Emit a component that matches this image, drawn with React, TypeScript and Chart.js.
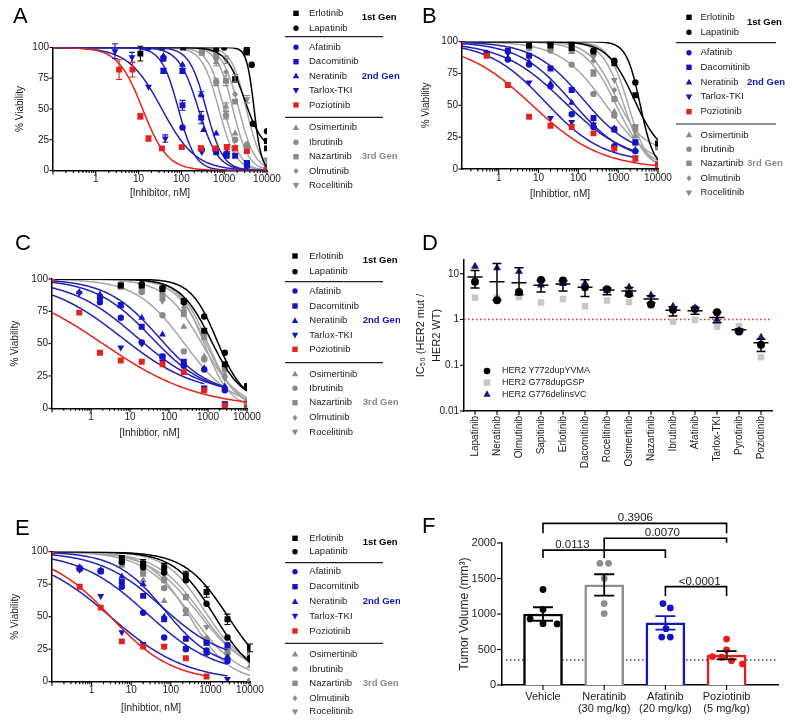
import React, { useEffect, useRef } from 'react';
import { Chart, registerables } from 'chart.js';

Chart.register(...registerables);

const FONT = '"Liberation Sans", Arial, Helvetica, sans-serif';
Chart.defaults.font.family = FONT;
Chart.defaults.color = '#1a1a1a';

const BLACK = '#000000';
const BLUE = '#1414c4';
const BLUE_LINE = '#2222b8';
const RED = '#e8201c';
const GRAY = '#8a8a8a';
const GRAY_LINE = '#a6a6a6';
const NAVY = '#16167e';
const LIGHT = '#c8c8c8';
const TEXT = '#1a1a1a';

// ================= DATA =================
// Dose–response panels (A, B, C, E)
const drugNames = ['Erlotinib', 'Lapatinib', 'Afatinib', 'Dacomitinib', 'Neratinib', 'Tarlox-TKI', 'Poziotinib', 'Osimertinib', 'Ibrutinib', 'Nazartinib', 'Olmutinib', 'Rocelitinib'];
const genLabels = ['1st Gen', '2nd Gen', '3rd Gen'];
const vehicleViability = 100;

// Panel A: [concentration nM, % viability, error]
const aErlotinib = [[11, 95, 6], [35, 100, 0], [110, 100, 0], [650, 99, 0], [1800, 74, 2], [3400, 97, 3], [10000, 24, 0], [10000, 18, 0]];
const aLapatinib = [[1000, 100, 0], [3300, 97, 2], [4400, 86, 0], [4700, 38, 0], [10000, 32, 0]];
const aAfatinib = [[17, 100, 0], [38, 91, 2], [106, 35, 0], [300, 17, 0], [1100, 13, 0], [3400, 6, 2], [10000, 1, 0]];
const aDacomitinib = [[38, 81, 2], [106, 81, 2], [106, 53, 4], [290, 43, 5], [650, 15, 0], [1150, 12, 0], [1800, 12, 0], [3400, 4, 3]];
const aNeratinib = [[38, 93, 0], [106, 86, 0], [290, 62, 2], [330, 33, 0], [650, 30, 0], [1150, 15, 0], [3400, 5, 0], [10000, 1, 0]];
const aTarlox = [[2.8, 97, 6], [7, 92, 4], [17, 68, 0], [42, 26, 3], [300, 15, 0], [620, 15, 0], [1150, 14, 0], [3400, 4, 3], [10000, 1, 0]];
const aPoziotinib = [[3.5, 82, 8], [7.2, 82, 6], [11, 44, 2], [17, 26, 2], [35, 18, 1], [102, 19, 1], [285, 18, 2], [620, 18, 1], [1150, 19, 2], [1800, 18, 2], [3400, 16, 2], [10000, 0.5, 0]];
const aOsimertinib = [[300, 95, 0], [650, 88, 3], [1100, 52, 3], [1800, 30, 0], [3400, 20, 2], [10000, 3, 0]];
const aIbrutinib = [[300, 96, 0], [650, 72, 3], [1100, 45, 3], [1800, 25, 0], [3400, 18, 0], [10000, 2, 0]];
const aNazartinib = [[300, 99, 0], [650, 93, 0], [1100, 73, 4], [1800, 56, 0], [3400, 20, 0], [10000, 3, 0]];
const aOlmutinib = [[300, 98, 0], [650, 90, 0], [1100, 80, 0], [1800, 62, 0], [3400, 22, 0], [10000, 4, 0]];
const aRocelitinib = [[300, 100, 0], [650, 97, 0], [1100, 90, 3], [1800, 75, 3], [3400, 58, 3], [10000, 9, 0]];
// fitted curve parameters: [top, bottom, IC50 nM, Hill slope, last concentration]
const fitA = [
  [100, 15, 3000, 2, 10000], [100, 0, 5000, 5, 10000], [100, 0, 85, 2.2, 10000], [100, 0, 250, 1.9, 10000],
  [100, 0, 380, 2.2, 10000], [100, 0, 35, 1.1, 10000], [100, 0, 12.4, 1.5, 10000], [100, 0, 1000, 2.3, 10000],
  [100, 0, 750, 2.2, 10000], [100, 0, 2200, 2.3, 10000], [100, 0, 1600, 2.4, 10000], [100, 0, 3300, 2.5, 10000],
];

// Panels B, C, E share one dilution series (vehicle = 100 % plotted at the axis start)
const concBCE = [0.5, 1.7, 5.8, 20, 68, 240, 800, 2700, 10000];

const bErlotinib = [null, null, 97, 97, 95, 92, 83, 58, 20];
const bLapatinib = [null, null, null, 99, 99, 93, 85, 68, 3];
const bAfatinib = [91, 86, 82, 65, 43, 33, 18, 14, null];
const bDacomitinib = [null, 93, 89, 79, 62, 40, 31, 21, null];
const bNeratinib = [91, 87, 84, 67, 52, 35, 32, 15, null];
const bTarlox = [91, 91, 68, 40, 37, 35, 16, 9, null];
const bPoziotinib = [89, 66, 41, 34, 33, 28, 16, 8, 3];
const bOsimertinib = [null, null, 97, 95, 92, 74, 45, 26, 5];
const bIbrutinib = [null, null, 95, 93, 82, 59, 42, 20, 17];
const bNazartinib = [null, null, 96, 95, 93, 76, 55, 33, 17];
const bOlmutinib = [null, null, 98, 97, 95, 85, 62, 30, 5];
const bRocelitinib = [null, null, 98, 98, 96, 88, 70, 33, 5];
const fitB = [
  [100, 10, 2500, 1.3, 10000], [100, 0, 3600, 2.5, 10000], [100, 5, 45, 0.55, 2700], [100, 10, 130, 0.7, 2700],
  [100, 5, 70, 0.65, 2700], [100, 5, 15, 0.6, 2700], [100, 0, 7, 0.5, 10000], [100, 0, 900, 1.1, 10000],
  [100, 0, 500, 0.75, 10000], [100, 15, 850, 1.3, 10000], [100, 0, 1400, 1.6, 10000], [100, 0, 1800, 1.8, 10000],
];

const cErlotinib = [null, null, 95, 95, 92, 83, 60, 34, 17];
const cLapatinib = [null, null, null, 96, 93, 82, 71, 43, 17];
const cAfatinib = [null, 82, 70, 51, 40, 33, 30, 14, null];
const cDacomitinib = [null, 86, 80, 63, 40, 36, 15, 3, null];
const cNeratinib = [90, 88, 79, 70, 57, 35, 31, 17, null];
const cTarlox = [89, 84, 47, 50, 36, 33, 16, 4, null];
const cPoziotinib = [74, 43, 37, 36, 34, 28, 14, 2, 0.5];
const cOsimertinib = [null, null, 96, 90, 85, 63, 40, 26, 5];
const cIbrutinib = [null, null, 95, 90, 72, 44, 38, 15, 4];
const cNazartinib = [null, null, 94, 92, 87, 73, 55, 30, 3];
const cOlmutinib = [null, null, 97, 90, 88, 78, 57, 33, 6];
const cRocelitinib = [null, null, 96, 93, 83, 75, 38, 23, 2];
const fitC = [
  [100, 5, 1200, 1.1, 10000], [100, 5, 1700, 1.3, 10000], [100, 10, 15, 0.5, 2700], [100, 10, 35, 0.6, 2700],
  [100, 10, 55, 0.65, 2700], [100, 10, 6, 0.45, 800], [100, 0, 2, 0.35, 10000], [100, 0, 700, 0.9, 10000],
  [100, 0, 250, 0.7, 10000], [100, 0, 900, 1.1, 10000], [100, 0, 1000, 1.2, 10000], [100, 0, 800, 1.3, 10000],
];

const eErlotinib = [null, null, 95, 91, 88, 82, 69, 48, 26];
const eErlotinibErr = [0, 0, 2, 3, 3, 3, 4, 4, 3];
const eLapatinib = [null, null, 92, 88, 84, 78, 60, 34, 18];
const eAfatinib = [87, 85, 73, 53, 34, 25, 24, 16, null];
const eDacomitinib = [87, 85, 77, 66, 48, 33, 30, 28, null];
const eNeratinib = [88, 86, 81, 75, 50, 26, 22, 19, null];
const eTarlox = [86, 66, 38, 29, 27, 26, 22, 2, null];
const ePoziotinib = [73, 57, 31, 27, 27, 18, 4, null, null];
const eOsimertinib = [null, null, 93, 78, 62, 52, 33, 20, 12];
const eIbrutinib = [null, null, 91, 84, 72, 55, 22, 22, 0.5];
const eNazartinib = [null, null, 90, 83, 78, 65, 30, 23, 21];
const eOlmutinib = [null, null, 95, 86, 80, 66, 34, 28, 15];
const eRocelitinib = [null, null, 93, 90, 82, 66, 42, 25, 17];
const fitE = [
  [100, 0, 2800, 0.8, 10000], [100, 0, 1300, 0.85, 10000], [100, 5, 25, 0.5, 2700], [100, 15, 60, 0.55, 2700],
  [100, 10, 70, 0.7, 2700], [100, 0, 3, 0.45, 2700], [100, 0, 3, 0.55, 800], [100, 0, 350, 0.7, 10000],
  [100, 0, 300, 0.85, 10000], [100, 5, 500, 0.7, 10000], [100, 5, 600, 0.75, 10000], [100, 10, 700, 0.9, 10000],
];

// Panel D: IC50 ratio (HER2 mut / HER2 WT)
const dDrugs = ['Lapatinib', 'Neratinib', 'Olmutinib', 'Sapitinib', 'Erlotinib', 'Dacomitinib', 'Rocelitinib', 'Osimertinib', 'Nazartinib', 'Ibrutinib', 'Afatinib', 'Tarlox-TKI', 'Pyrotinib', 'Poziotinib'];
const dY772 = [6.7, 2.65, 4.0, 7.3, 7.1, 5.1, 4.6, 3.6, 2.15, 1.64, 1.7, 1.45, 0.55, 0.28];
const dG778 = [3.0, 3.0, 3.1, 2.35, 2.8, 1.95, 2.6, 2.4, 2.0, 0.9, 0.98, 0.7, 0.72, 0.15];
const dG776 = [14.5, 13.4, 11.2, 5.6, 6.1, 6.2, 4.2, 5.1, 3.4, 1.95, 1.8, 1.0, 0.58, 0.41];
const dMean = [8.5, 6.7, 6.4, 5.6, 6.0, 5.1, 4.4, 4.2, 2.8, 1.6, 1.55, 1.1, 0.6, 0.31];
const dErrHi = [11.8, 16.7, 13.6, 7.2, 7.0, 7.4, 4.9, 5.0, 3.3, 1.9, 1.8, 1.45, 0.62, 0.37];
const dErrLo = [4.9, 2.65, 3.5, 4.0, 4.2, 3.2, 3.5, 3.3, 2.3, 1.2, 1.3, 0.85, 0.55, 0.2];
const dLegend = ['HER2 Y772dupYVMA', 'HER2 G778dupGSP', 'HER2 G776delinsVC'];
const dReference = 1;

// Panel F: tumor volume
const fGroups = ['Vehicle', 'Neratinib', 'Afatinib', 'Poziotinib'];
const fDoses = ['', '(30 mg/kg)', '(20 mg/kg)', '(5 mg/kg)'];
const fMean = [1000, 1410, 875, 420];
const fSem = [95, 150, 96, 58];
const fVehicleDots = [1345, 1062, 930, 864, 860];
const fNeratinibDots = [1714, 1714, 1500, 1147, 1006];
const fAfatinibDots = [1147, 1086, 793, 675, 675];
const fPoziotinibDots = [647, 496, 401, 391, 340, 297];
const fBaseline = 354;
const fPValues = ['0.0113', '0.0070', '0.3906', '<0.0001'];

// ================= STYLE =================
const drugColors = [BLACK, BLACK, BLUE, BLUE, BLUE, BLUE, RED, GRAY, GRAY, GRAY, GRAY, GRAY];
const curveColors = [BLACK, BLACK, BLUE_LINE, BLUE_LINE, BLUE_LINE, BLUE_LINE, RED, GRAY_LINE, GRAY_LINE, GRAY_LINE, GRAY_LINE, GRAY_LINE];
const drugMarkers = ['rect', 'circle', 'circle', 'rect', 'triangle', 'triangleDown', 'rect', 'triangle', 'circle', 'rect', 'diamond', 'triangleDown'];
const genColors = [BLACK, BLUE, GRAY];
const layerOrder = [20, 20, 10, 10, 10, 10, 0, 30, 30, 30, 30, 30];
const chartStyle: any = {
  circle: ['circle', 3.2, 0],
  rect: ['rect', 4.2, 0],
  triangle: ['triangle', 4, 0],
  triangleDown: ['triangle', 4, 180],
  diamond: ['rectRot', 3, 0],
};
const fColors = [BLACK, '#8e8e8e', '#1212c8', '#ee1a1a'];
const fErrColors = [BLACK, BLACK, '#1212c8', BLACK];
const fJitter = [[0, 0, -0.21, 0, 0.23], [-0.07, 0.07, 0, 0, 0], [-0.04, 0.08, 0.01, -0.06, 0.08], [0, 0, -0.23, -0.08, 0.08, 0.26]];
// bracket geometry in data units: [from, to, lineY, leftLegEnd, rightLegEnd, labelIndex, labelX]
const fBracketGeom = [
  [0, 2, 1900, 1790, 1790, 0, 0.48],
  [1, 3, 2066, 1790, 2004, 1, 1.95],
  [0, 3, 2277, 2136, 2136, 2, 1.51],
  [2, 3, 1385, 1254, 1254, 3, 2.56],
];

// ================= HELPERS =================
function drawMarker(ctx: any, style: string, x: number, y: number, r: number, color: string) {
  ctx.save();
  ctx.fillStyle = color;
  ctx.beginPath();
  if (style === 'circle') ctx.arc(x, y, r, 0, Math.PI * 2);
  else if (style === 'rect') ctx.rect(x - r, y - r, 2 * r, 2 * r);
  else if (style === 'triangle') { ctx.moveTo(x, y - r * 1.1); ctx.lineTo(x + r, y + r * 0.7); ctx.lineTo(x - r, y + r * 0.7); ctx.closePath(); }
  else if (style === 'triangleDown') { ctx.moveTo(x, y + r * 1.1); ctx.lineTo(x + r, y - r * 0.7); ctx.lineTo(x - r, y - r * 0.7); ctx.closePath(); }
  else if (style === 'diamond') { ctx.moveTo(x, y - r); ctx.lineTo(x + r * 0.8, y); ctx.lineTo(x, y + r); ctx.lineTo(x - r * 0.8, y); ctx.closePath(); }
  ctx.fill();
  ctx.restore();
}
const legendR: any = { circle: 2.7, rect: 2.7, triangle: 3.2, triangleDown: 3.2, diamond: 3 };

// curve from 4-parameter logistic fit parameters
function fitCurve(p: number[], xMin: number) {
  const [top, bottom, ic50, hill, end] = p;
  const l0 = Math.log10(xMin), l1 = Math.log10(end);
  const pts: any[] = [];
  for (let k = 0; k <= 160; k++) {
    const x = Math.pow(10, l0 + ((l1 - l0) * k) / 160);
    pts.push({ x, y: bottom + (top - bottom) / (1 + Math.pow(x / ic50, hill)) });
  }
  return pts;
}

function rowsToPoints(rows: any[][], xMin: number, errs: any[] = []) {
  return rows.map((row, i) => {
    const pts: any[] = [{ x: xMin, y: vehicleViability, e: 0 }];
    row.forEach((v, j) => {
      if (v != null) pts.push({ x: concBCE[j], y: v, e: errs[i] ? errs[i][j] : 0 });
    });
    return pts;
  });
}

function logTicks(scale: any) {
  const ticks: any[] = [];
  for (let e = -2; e <= 4; e++) {
    for (let d = 1; d <= 9; d++) {
      const v = d * Math.pow(10, e);
      if (v >= scale.min * 0.999 && v <= scale.max * 1.001) ticks.push({ value: v, major: d === 1 });
    }
  }
  scale.ticks = ticks;
}

function drawTickMarks(chart: any, xLen: number[] | null, yLen: number[] | null) {
  const { ctx, chartArea } = chart;
  const xs = chart.scales.x, ys = chart.scales.y;
  ctx.save();
  ctx.strokeStyle = '#000';
  ctx.lineWidth = 1.1;
  if (xLen) {
    xs.ticks.forEach((t: any) => {
      const px = xs.getPixelForValue(t.value);
      const len = t.major === false ? xLen[1] : xLen[0];
      ctx.beginPath(); ctx.moveTo(px, chartArea.bottom); ctx.lineTo(px, chartArea.bottom + len); ctx.stroke();
    });
  }
  if (yLen) {
    ys.ticks.forEach((t: any) => {
      const py = ys.getPixelForValue(t.value);
      const len = t.major === false ? yLen[1] : yLen[0];
      ctx.beginPath(); ctx.moveTo(chartArea.left - len, py); ctx.lineTo(chartArea.left, py); ctx.stroke();
    });
  }
  ctx.restore();
}

function drawLetter(ctx: any, letter: string, x: number, y: number) {
  ctx.save();
  ctx.font = `22px ${FONT}`;
  ctx.fillStyle = '#000';
  ctx.textBaseline = 'alphabetic';
  ctx.textAlign = 'left';
  ctx.fillText(letter, x, y);
  ctx.restore();
}

const baseOptions: any = {
  responsive: false,
  animation: false,
  devicePixelRatio: 1,
  events: [],
  plugins: { legend: { display: false }, tooltip: { enabled: false } },
};

// ================= DOSE PANELS =================
function buildDoseConfig(c: any) {
  const datasets: any[] = [];
  drugNames.forEach((_, i) => {
    const [ps, pr, rot] = chartStyle[drugMarkers[i]];
    datasets.push({
      data: fitCurve(c.fits[i], c.xMin), showLine: true, borderColor: curveColors[i], borderWidth: 1.5,
      pointRadius: 0, fill: false, order: layerOrder[i] + 1,
    });
    datasets.push({
      isPts: true, data: c.points[i], showLine: false, pointStyle: ps, pointRadius: pr, pointRotation: rot,
      backgroundColor: drugColors[i], borderColor: drugColors[i], borderWidth: 0, order: layerOrder[i],
    });
  });
  const L = c.legend;
  return {
    type: 'scatter',
    data: { datasets },
    options: {
      ...baseOptions,
      layout: { padding: { left: 0, top: c.area.t, right: c.w - c.area.r, bottom: c.h - c.area.b - c.xAxisH } },
      scales: {
        x: {
          type: 'logarithmic', min: c.xMin, max: 10000, position: 'bottom',
          grid: { display: false, drawTicks: true, tickLength: 3 },
          border: { display: true, color: '#000', width: 1.5 },
          ticks: {
            autoSkip: false, maxRotation: 0, minRotation: 0, padding: 0, color: TEXT,
            font: { size: 10, family: FONT },
            callback: (v: any, i: number, ticks: any[]) => (ticks[i] && ticks[i].major && v >= 1 ? String(Math.round(v)) : ''),
          },
          title: { display: true, text: c.xTitle, color: TEXT, font: { size: 10, family: FONT }, padding: { top: 0, bottom: 0 } },
          afterBuildTicks: logTicks,
          afterFit: (s: any) => { s.height = c.xAxisH; },
        },
        y: {
          type: 'linear', min: 0, max: 100, position: 'left',
          grid: { display: false, drawTicks: true, tickLength: 3 },
          border: { display: true, color: '#000', width: 1.5 },
          ticks: { stepSize: 25, padding: 1, color: TEXT, font: { size: 10, family: FONT } },
          title: { display: true, text: '% Viability', color: TEXT, font: { size: 10, family: FONT }, padding: { top: c.yTitlePad, bottom: 0 } },
          afterFit: (s: any) => { s.width = c.area.l; },
        },
      },
    },
    plugins: [{
      id: 'doseDecor',
      afterDraw(chart: any) {
        const { ctx } = chart;
        const xs = chart.scales.x, ys = chart.scales.y;
        // error bars
        ctx.save();
        chart.data.datasets.forEach((ds: any) => {
          if (!ds.isPts) return;
          ctx.strokeStyle = ds.backgroundColor;
          ctx.lineWidth = 1.1;
          ds.data.forEach((p: any) => {
            if (!p.e) return;
            const px = xs.getPixelForValue(p.x);
            const y1 = ys.getPixelForValue(Math.min(p.y + p.e, 104));
            const y2 = ys.getPixelForValue(p.y - p.e);
            ctx.beginPath();
            ctx.moveTo(px, y1); ctx.lineTo(px, y2);
            ctx.moveTo(px - 3, y1); ctx.lineTo(px + 3, y1);
            ctx.moveTo(px - 3, y2); ctx.lineTo(px + 3, y2);
            ctx.stroke();
          });
        });
        ctx.restore();
        drawTickMarks(chart, [4, 2.5], [3.5, 2]);
        // legend
        ctx.save();
        ctx.font = `9.5px ${FONT}`;
        ctx.textBaseline = 'middle';
        ctx.textAlign = 'left';
        drugNames.forEach((n, i) => {
          drawMarker(ctx, drugMarkers[i], L.markerX, L.rows[i], legendR[drugMarkers[i]], drugColors[i]);
          ctx.fillStyle = TEXT;
          ctx.fillText(n, L.textX, L.rows[i]);
        });
        ctx.strokeStyle = '#222';
        ctx.lineWidth = 1.2;
        L.seps.forEach((y: number) => { ctx.beginPath(); ctx.moveTo(L.sepX[0], y); ctx.lineTo(L.sepX[1], y); ctx.stroke(); });
        ctx.font = `bold 9.5px ${FONT}`;
        genLabels.forEach((g, k) => { ctx.fillStyle = genColors[k]; ctx.fillText(g, L.genX, L.genY[k]); });
        ctx.restore();
        drawLetter(ctx, c.letter, c.letterPos[0], c.letterPos[1]);
      },
    }],
  };
}

const cfgA = {
  left: 0, top: 0, w: 400, h: 230, area: { l: 53, t: 47.5, r: 267, b: 170.5 }, xMin: 0.1, xAxisH: 29, yTitlePad: 14,
  xTitle: '[Inhibitor, nM]', letter: 'A', letterPos: [13, 23], fits: fitA,
  points: [aErlotinib, aLapatinib, aAfatinib, aDacomitinib, aNeratinib, aTarlox, aPoziotinib, aOsimertinib, aIbrutinib, aNazartinib, aOlmutinib, aRocelitinib]
    .map((list) => list.map(([x, y, e]) => ({ x, y, e }))),
  legend: { markerX: 296, textX: 309, rows: [13.3, 28.3, 47.3, 61.7, 76, 90.3, 105, 127.7, 142.3, 156.7, 171, 185.3], seps: [36.7, 117.3], sepX: [285, 383], genX: 361.7, genY: [17.3, 76, 156.7] },
};
const cfgB = {
  left: 400, top: 0, w: 400, h: 230, area: { l: 62, t: 41.7, r: 258, b: 169 }, xMin: 0.12, xAxisH: 31, yTitlePad: 20.7,
  xTitle: '[Inhibtior, nM]', letter: 'B', letterPos: [22, 23], fits: fitB,
  points: rowsToPoints([bErlotinib, bLapatinib, bAfatinib, bDacomitinib, bNeratinib, bTarlox, bPoziotinib, bOsimertinib, bIbrutinib, bNazartinib, bOlmutinib, bRocelitinib], 0.12),
  legend: { markerX: 289, textX: 300.5, rows: [17.3, 32.3, 52.7, 67.3, 82.3, 96.7, 111.7, 135, 149.3, 163.3, 178.3, 192.7], seps: [42.7, 124], sepX: [276, 376], genX: 347, genY: [22.3, 82.3, 163.3] },
};
const cfgC = {
  left: 0, top: 230, w: 400, h: 230, area: { l: 52, t: 49, r: 247, b: 178.3 }, xMin: 0.1, xAxisH: 31, yTitlePad: 9,
  xTitle: '[Inhibtior, nM]', letter: 'C', letterPos: [15, 20], fits: fitC,
  points: rowsToPoints([cErlotinib, cLapatinib, cAfatinib, cDacomitinib, cNeratinib, cTarlox, cPoziotinib, cOsimertinib, cIbrutinib, cNazartinib, cOlmutinib, cRocelitinib], 0.1),
  legend: { markerX: 295, textX: 309.3, rows: [26, 41.7, 61, 76, 90.7, 105, 119.3, 144, 158.3, 172.7, 187.7, 202], seps: [51.7, 132.7], sepX: [285, 383], genX: 362.7, genY: [30.7, 90.7, 172.7] },
};
const cfgE = {
  left: 0, top: 470, w: 400, h: 254, area: { l: 52, t: 81.7, r: 250, b: 211.7 }, xMin: 0.1, xAxisH: 32.6, yTitlePad: 9,
  xTitle: '[Inhibtior, nM]', letter: 'E', letterPos: [15, 65], fits: fitE,
  points: rowsToPoints([eErlotinib, eLapatinib, eAfatinib, eDacomitinib, eNeratinib, eTarlox, ePoziotinib, eOsimertinib, eIbrutinib, eNazartinib, eOlmutinib, eRocelitinib], 0.1, [eErlotinibErr]),
  legend: { markerX: 295, textX: 309.3, rows: [68.3, 81.7, 101.7, 116.7, 131.7, 146, 161, 184.3, 199, 213.3, 228.3, 241.7], seps: [92.7, 173.3], sepX: [285, 383], genX: 362.7, genY: [72.7, 131.7, 213.3] },
};

// ================= PANEL D =================
function buildDConfig() {
  const W = 400, H = 270, area = { l: 64, t: 30, r: 372, b: 181 }, xH = 75;
  const mk = (vals: number[], style: string, r: number, color: string, order: number) => ({
    data: vals.map((y, i) => ({ x: i, y })), pointStyle: style, pointRadius: r, backgroundColor: color,
    borderColor: color, borderWidth: 0, order,
  });
  const labels: any = { 0.01: '0.01', 0.1: '0.1', 1: '1', 10: '10' };
  return {
    type: 'scatter',
    data: { datasets: [mk(dG776, 'triangle', 4.6, NAVY, 1), mk(dY772, 'circle', 4, '#000', 2), mk(dG778, 'rect', 4.6, LIGHT, 3)] },
    options: {
      ...baseOptions,
      layout: { padding: { left: 0, top: area.t, right: W - area.r, bottom: H - area.b - xH } },
      scales: {
        x: {
          type: 'linear', min: -0.5, max: 13.5,
          grid: { display: false, drawTicks: true, tickLength: 4 },
          border: { display: true, color: '#000', width: 1.5 },
          ticks: { autoSkip: false, minRotation: 90, maxRotation: 90, padding: 1, color: TEXT, font: { size: 10, family: FONT }, callback: (v: any) => dDrugs[v] },
          afterBuildTicks: (s: any) => { s.ticks = dDrugs.map((_, i) => ({ value: i })); },
          afterFit: (s: any) => { s.height = xH; },
        },
        y: {
          type: 'logarithmic', min: 0.01, max: 20,
          grid: { display: false, drawTicks: true, tickLength: 4 },
          border: { display: true, color: '#000', width: 1.5 },
          ticks: { autoSkip: false, padding: 1, color: TEXT, font: { size: 10, family: FONT }, callback: (v: any) => labels[v] || '' },
          afterBuildTicks: (s: any) => { s.ticks = [0.01, 0.1, 1, 10].map((v) => ({ value: v, major: true })); },
          title: { display: true, text: ['IC₅₀ (HER2 mut /', 'HER2 WT)'], color: TEXT, font: { size: 11, family: FONT, lineHeight: 1.45 }, padding: { top: 13, bottom: 0 } },
          afterFit: (s: any) => { s.width = area.l; },
        },
      },
    },
    plugins: [{
      id: 'dDecor',
      beforeDatasetsDraw(chart: any) {
        const { ctx, chartArea } = chart;
        const py = chart.scales.y.getPixelForValue(dReference);
        ctx.save();
        ctx.strokeStyle = '#e8262a';
        ctx.lineWidth = 1.5;
        ctx.setLineDash([1.5, 2.5]);
        ctx.beginPath(); ctx.moveTo(chartArea.left, py); ctx.lineTo(chartArea.right, py); ctx.stroke();
        ctx.restore();
      },
      afterDraw(chart: any) {
        const { ctx } = chart;
        const xs = chart.scales.x, ys = chart.scales.y;
        ctx.save();
        ctx.strokeStyle = '#000';
        ctx.lineWidth = 1.5;
        dMean.forEach((m, i) => {
          const px = xs.getPixelForValue(i);
          const pm = ys.getPixelForValue(m), ph = ys.getPixelForValue(dErrHi[i]), pl = ys.getPixelForValue(dErrLo[i]);
          ctx.beginPath();
          ctx.moveTo(px - 7.5, pm); ctx.lineTo(px + 7.5, pm);
          ctx.moveTo(px, ph); ctx.lineTo(px, pl);
          ctx.moveTo(px - 4.5, ph); ctx.lineTo(px + 4.5, ph);
          ctx.moveTo(px - 4.5, pl); ctx.lineTo(px + 4.5, pl);
          ctx.stroke();
        });
        ctx.restore();
        drawTickMarks(chart, [4, 4], [4, 4]);
        // legend
        ctx.save();
        ctx.font = `9px ${FONT}`;
        ctx.textBaseline = 'middle';
        const rows = [141, 152.7, 164.3];
        const mks = [['circle', 3.3, '#000'], ['rect', 3.3, LIGHT], ['triangle', 3.6, NAVY]];
        dLegend.forEach((t, k) => {
          drawMarker(ctx, mks[k][0] as string, 87, rows[k], mks[k][1] as number, mks[k][2] as string);
          ctx.fillStyle = TEXT;
          ctx.fillText(t, 102, rows[k]);
        });
        ctx.restore();
        drawLetter(ctx, 'D', 22, 20);
      },
    }],
  };
}

// ================= PANEL F =================
function buildFConfig() {
  const W = 400, H = 244, area = { l: 102, t: 63, r: 378, b: 205 }, xH = 35;
  const dots = [fVehicleDots, fNeratinibDots, fAfatinibDots, fPoziotinibDots];
  const dotSets = dots.map((vals, g) => ({
    type: 'scatter', data: vals.map((y, k) => ({ x: g + fJitter[g][k], y })), pointStyle: 'circle', pointRadius: 3.4,
    backgroundColor: fColors[g], borderColor: fColors[g], borderWidth: 0, order: 1,
  }));
  return {
    type: 'bar',
    data: {
      datasets: [
        {
          type: 'bar', data: fMean.map((y, i) => ({ x: i, y })), backgroundColor: '#ffffff', borderColor: fColors,
          borderWidth: 2.5, barThickness: 39, order: 5,
        },
        ...dotSets,
      ],
    },
    options: {
      ...baseOptions,
      layout: { padding: { left: 0, top: area.t, right: W - area.r, bottom: H - area.b - xH } },
      scales: {
        x: {
          type: 'linear', min: -0.67, max: 3.84, offset: false,
          grid: { display: false, drawTicks: true, tickLength: 5, offset: false },
          border: { display: true, color: '#000', width: 1.5 },
          ticks: {
            autoSkip: false, maxRotation: 0, minRotation: 0, padding: 1, color: TEXT, font: { size: 11, family: FONT, lineHeight: 1.1 },
            callback: (v: any) => (fDoses[v] ? [fGroups[v], fDoses[v]] : fGroups[v]),
          },
          afterBuildTicks: (s: any) => { s.ticks = fGroups.map((_, i) => ({ value: i })); },
          afterFit: (s: any) => { s.height = xH; },
        },
        y: {
          type: 'linear', min: 0, max: 2000,
          grid: { display: false, drawTicks: true, tickLength: 5 },
          border: { display: true, color: '#000', width: 1.5 },
          ticks: { stepSize: 500, padding: 1, color: TEXT, font: { size: 11, family: FONT }, callback: (v: any) => String(v) },
          title: { display: true, text: 'Tumor Volume (mm³)', color: TEXT, font: { size: 12, family: FONT }, padding: { top: 57.8, bottom: 0 } },
          afterFit: (s: any) => { s.width = area.l; },
        },
      },
    },
    plugins: [{
      id: 'fDecor',
      beforeDatasetsDraw(chart: any) {
        const { ctx, chartArea } = chart;
        const py = chart.scales.y.getPixelForValue(fBaseline);
        ctx.save();
        ctx.strokeStyle = '#222';
        ctx.lineWidth = 1.2;
        ctx.setLineDash([1.5, 2.5]);
        ctx.beginPath(); ctx.moveTo(chartArea.left + 4, py); ctx.lineTo(chartArea.right - 2, py); ctx.stroke();
        ctx.restore();
      },
      afterDraw(chart: any) {
        const { ctx } = chart;
        const xs = chart.scales.x, ys = chart.scales.y;
        ctx.save();
        ctx.lineWidth = 1.8;
        fMean.forEach((m, i) => {
          const px = xs.getPixelForValue(i);
          const ph = ys.getPixelForValue(m + fSem[i]), pl = ys.getPixelForValue(m - fSem[i]);
          ctx.strokeStyle = fErrColors[i];
          ctx.beginPath();
          ctx.moveTo(px, ph); ctx.lineTo(px, pl);
          ctx.moveTo(px - 10, ph); ctx.lineTo(px + 10, ph);
          ctx.moveTo(px - 10, pl); ctx.lineTo(px + 10, pl);
          ctx.stroke();
        });
        // significance brackets
        ctx.strokeStyle = '#000';
        ctx.lineWidth = 1.6;
        ctx.fillStyle = TEXT;
        ctx.font = `11.5px ${FONT}`;
        ctx.textAlign = 'center';
        ctx.textBaseline = 'alphabetic';
        fBracketGeom.forEach(([a, b, y, la, lb, li, lx]) => {
          const xa = xs.getPixelForValue(a), xb = xs.getPixelForValue(b);
          const py = ys.getPixelForValue(y);
          ctx.beginPath();
          ctx.moveTo(xa, ys.getPixelForValue(la)); ctx.lineTo(xa, py); ctx.lineTo(xb, py); ctx.lineTo(xb, ys.getPixelForValue(lb));
          ctx.stroke();
          ctx.fillText(fPValues[li], xs.getPixelForValue(lx), py - 2);
        });
        ctx.restore();
        drawTickMarks(chart, [5, 5], [5, 5]);
        drawLetter(ctx, 'F', 22, 53);
      },
    }],
  };
}

// ================= COMPONENTS =================
function ChartCanvas({ left, top, w, h, build }: any) {
  const ref = useRef<HTMLCanvasElement>(null);
  useEffect(() => {
    const chart = new Chart(ref.current as HTMLCanvasElement, build() as any);
    return () => chart.destroy();
  }, []);
  return <canvas ref={ref} width={w} height={h} style={{ position: 'absolute', left, top, width: w, height: h }} />;
}

export default function App() {
  const dose = [cfgA, cfgB, cfgC, cfgE];
  return (
    <div style={{ position: 'absolute', left: 0, top: 0, width: 800, height: 724, background: '#fff', overflow: 'hidden' }}>
      {dose.map((c) => (
        <ChartCanvas key={c.letter} left={c.left} top={c.top} w={c.w} h={c.h} build={() => buildDoseConfig(c)} />
      ))}
      <ChartCanvas left={400} top={230} w={400} h={270} build={buildDConfig} />
      <ChartCanvas left={400} top={480} w={400} h={244} build={buildFConfig} />
    </div>
  );
}
